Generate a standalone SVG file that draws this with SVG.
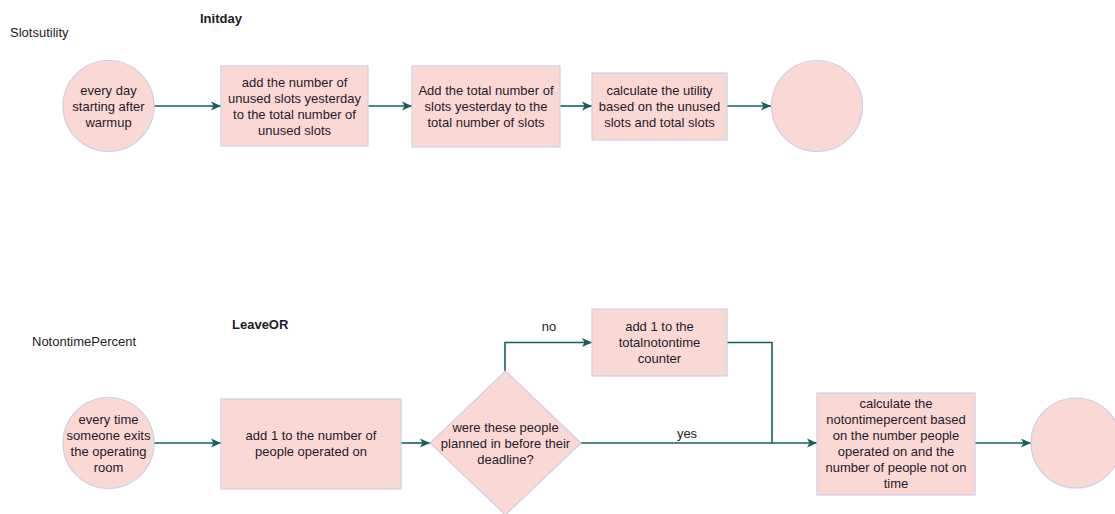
<svg xmlns="http://www.w3.org/2000/svg" width="1115" height="514" viewBox="0 0 1115 514">
  <defs>
    <marker id="arrow" viewBox="0 0 10 10" refX="10" refY="5" markerWidth="10" markerHeight="10" markerUnits="userSpaceOnUse" orient="auto">
      <path d="M0,0.5 L10,5 L0,9.5 L2.5,5 Z" fill="#175f5f"/>
    </marker>
    <style>
      .shape { fill: #fad9d5; stroke: #d0cee2; stroke-width: 1.2; }
      .txt { font-family: "Liberation Sans", Arial, sans-serif; font-size: 13px; fill: #1f1a26; text-anchor: middle; }
      .title { font-family: "Liberation Sans", Arial, sans-serif; font-size: 13px; fill: #1f1a26; }
      .bold { font-weight: bold; }
      .edge { fill: none; stroke: #175f5f; stroke-width: 1.6; }
    </style>
  </defs>
  <rect width="1115" height="514" fill="#ffffff"/>

  <!-- section headings -->
  <text class="title" x="10" y="37">Slotsutility</text>
  <text class="title bold" x="200" y="23">Initday</text>
  <text class="title" x="32" y="346">NotontimePercent</text>
  <text class="title bold" x="232" y="329">LeaveOR</text>

  <!-- connectors -->
  <g id="connectors">
    <path class="edge" d="M154,106 L221,106" marker-end="url(#arrow)"/>
    <path class="edge" d="M368,106 L412,106" marker-end="url(#arrow)"/>
    <path class="edge" d="M560,106 L592,106" marker-end="url(#arrow)"/>
    <path class="edge" d="M727,106 L771,106" marker-end="url(#arrow)"/>

    <path class="edge" d="M154,443 L221,443" marker-end="url(#arrow)"/>
    <path class="edge" d="M401,443 L430,443" marker-end="url(#arrow)"/>
    <path class="edge" d="M505,371 L505,342.5 L592,342.5" marker-end="url(#arrow)"/>
    <path class="edge" d="M727,342.5 L772,342.5 L772,443"/>
    <path class="edge" d="M581,443 L817,443" marker-end="url(#arrow)"/>
    <path class="edge" d="M975,443 L1031,443" marker-end="url(#arrow)"/>
    <text class="txt" x="549" y="331">no</text>
    <text class="txt" x="687" y="438">yes</text>
  </g>

  <!-- Slotsutility flow -->
  <g id="start-day">
    <circle class="shape" cx="108.5" cy="106" r="45.5"/>
    <text class="txt" x="108.5" y="94.5">every day</text>
    <text class="txt" x="108.5" y="110.5">starting after</text>
    <text class="txt" x="108.5" y="126.5">warmup</text>
  </g>
  <g id="add-unused">
    <rect class="shape" x="221" y="66" width="147" height="80"/>
    <text class="txt" x="294.5" y="86.5">add the number of</text>
    <text class="txt" x="294.5" y="102.5">unused slots yesterday</text>
    <text class="txt" x="294.5" y="118.5">to the total number of</text>
    <text class="txt" x="294.5" y="134.5">unused slots</text>
  </g>
  <g id="add-total">
    <rect class="shape" x="412" y="66" width="148" height="81"/>
    <text class="txt" x="486" y="94.5">Add the total number of</text>
    <text class="txt" x="486" y="110.5">slots yesterday to the</text>
    <text class="txt" x="486" y="126.5">total number of slots</text>
  </g>
  <g id="calc-utility">
    <rect class="shape" x="592" y="73" width="135" height="67"/>
    <text class="txt" x="659.5" y="94.5">calculate the utility</text>
    <text class="txt" x="659.5" y="110.5">based on the unused</text>
    <text class="txt" x="659.5" y="126.5">slots and total slots</text>
  </g>
  <g id="end-day">
    <circle class="shape" cx="817" cy="106" r="45.5"/>
  </g>

  <!-- NotontimePercent flow -->
  <g id="start-exit">
    <circle class="shape" cx="108.5" cy="443" r="45.5"/>
    <text class="txt" x="108.5" y="423.5">every time</text>
    <text class="txt" x="108.5" y="439.5">someone exits</text>
    <text class="txt" x="108.5" y="455.5">the operating</text>
    <text class="txt" x="108.5" y="471.5">room</text>
  </g>
  <g id="add-operated">
    <rect class="shape" x="221" y="399" width="180" height="90"/>
    <text class="txt" x="311" y="439.5">add 1 to the number of</text>
    <text class="txt" x="311" y="455.5">people operated on</text>
  </g>
  <g id="deadline-check">
    <polygon class="shape" points="505.5,371 581,443 505.5,515 430,443"/>
    <text class="txt" x="505.5" y="431.5">were these people</text>
    <text class="txt" x="505.5" y="447.5">planned in before their</text>
    <text class="txt" x="505.5" y="463.5">deadline?</text>
  </g>
  <g id="add-notontime">
    <rect class="shape" x="592" y="309" width="135" height="67"/>
    <text class="txt" x="659.5" y="330.5">add 1 to the</text>
    <text class="txt" x="659.5" y="346.5">totalnotontime</text>
    <text class="txt" x="659.5" y="362.5">counter</text>
  </g>
  <g id="calc-percent">
    <rect class="shape" x="817" y="393" width="158" height="102"/>
    <text class="txt" x="896" y="407.5">calculate the</text>
    <text class="txt" x="896" y="423.5">notontimepercent based</text>
    <text class="txt" x="896" y="439.5">on the number people</text>
    <text class="txt" x="896" y="455.5">operated on and the</text>
    <text class="txt" x="896" y="471.5">number of people not on</text>
    <text class="txt" x="896" y="487.5">time</text>
  </g>
  <g id="end-exit">
    <circle class="shape" cx="1076" cy="443" r="45"/>
  </g>
</svg>
